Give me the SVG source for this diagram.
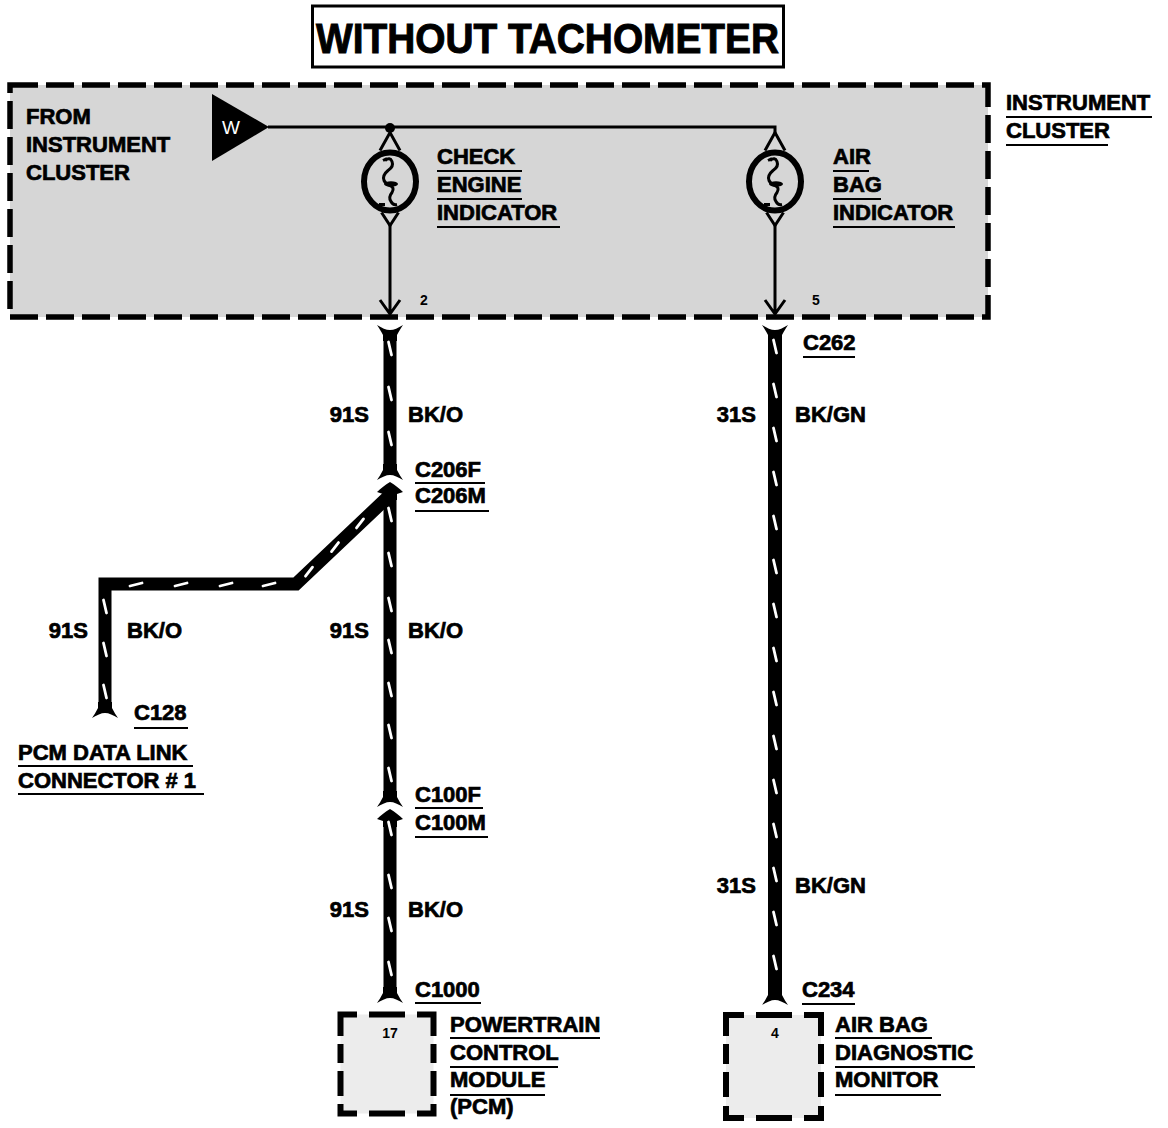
<svg xmlns="http://www.w3.org/2000/svg" width="1168" height="1128" viewBox="0 0 1168 1128">
<defs>
<style>
.t{font-family:"Liberation Sans",Arial,sans-serif;font-weight:bold;font-size:22px;fill:#000;stroke:#000;stroke-width:0.7px}
.s{font-family:"Liberation Sans",Arial,sans-serif;font-weight:bold;font-size:14px;fill:#000}
.ul{stroke:#000;stroke-width:2;fill:none}
.wire{stroke:#000;stroke-width:13;fill:none;stroke-linejoin:miter}
.tick{stroke:#fff;stroke-width:2.8;stroke-linecap:round;fill:none}
.thin{stroke:#000;stroke-width:3;fill:none}
.dash{stroke:#000;stroke-width:5.5;fill:none;stroke-dasharray:28 8}
.mod{stroke:#000;stroke-width:6;fill:none}
</style>
<path id="cupDown" d="M-7,-10 L-7,-4 C-9,0 -11,3 -13,6 C-8,3 -4,1 0,1 C4,1 8,3 13,6 C11,3 9,0 7,-4 L7,-10 Z"/>
<path id="cupUp" d="M-7,10 L-7,4 C-9,0 -11,-3 -13,-6 C-8,-3 -4,-1 0,-1 C4,-1 8,-3 13,-6 C11,-3 9,0 7,4 L7,10 Z"/>
<path id="male" d="M0,0 C5,3 9,6 13,10 L7,12 L7,18 L-7,18 L-7,12 L-13,10 C-9,6 -5,3 0,0 Z"/>
<g id="bulb">
<ellipse rx="26" ry="29" fill="none" stroke="#000" stroke-width="6"/>
<path d="M-10,-31 L0,-49 L10,-31" class="thin"/>
<path d="M-8.5,31 L0,44 L8.5,31" class="thin"/>
<path d="M-5,-21 Q0,-25 2,-20 Q4,-15 -2,-11 Q-8,-6 -6,-1 Q-4,3 0,4 Q5,6 2,11 Q-2,16 1,20 Q3,24 7,23" class="thin"/>
<ellipse cx="1" cy="2.5" rx="7" ry="2.8" fill="#000"/>
<path d="M-11,23 L-5,23 M-7,-21 L-3,-23" class="thin"/>
</g>
</defs>

<g id="title">
<rect x="312.5" y="6" width="471" height="61" fill="#fff" stroke="#000" stroke-width="3"/>
<text x="316" y="53" class="t" style="font-size:43px;stroke-width:1px" textLength="463" lengthAdjust="spacingAndGlyphs">WITHOUT TACHOMETER</text>
</g>

<g id="instrument-cluster">
<rect x="10" y="85" width="978" height="232" fill="#d6d6d6"/>
<rect x="10" y="85" width="978" height="232" class="dash"/>
<text x="26" y="124" class="t">FROM</text>
<text x="26" y="152" class="t">INSTRUMENT</text>
<text x="26" y="180" class="t">CLUSTER</text>
<text x="1006" y="110" class="t">INSTRUMENT</text>
<path d="M1006,117 H1152" class="ul"/>
<text x="1006" y="138" class="t">CLUSTER</text>
<path d="M1006,145 H1108" class="ul"/>
<polygon points="212,94 212,161 269,127" fill="#000"/>
<text x="222" y="134" fill="#fff" style="font-family:'Liberation Sans',Arial,sans-serif;font-size:19px">W</text>
</g>

<g id="check-engine-indicator">
<use href="#bulb" x="390" y="181.5"/>
<text x="437" y="164" class="t">CHECK</text>
<path d="M437,171 H522" class="ul"/>
<text x="437" y="192" class="t">ENGINE</text>
<path d="M437,199 H522" class="ul"/>
<text x="437" y="220" class="t">INDICATOR</text>
<path d="M437,227 H560" class="ul"/>
<text x="420" y="305" class="s">2</text>
</g>

<g id="air-bag-indicator">
<use href="#bulb" x="775" y="181.5"/>
<text x="833" y="164" class="t">AIR</text>
<path d="M833,171 H869" class="ul"/>
<text x="833" y="192" class="t">BAG</text>
<path d="M833,199 H881" class="ul"/>
<text x="833" y="220" class="t">INDICATOR</text>
<path d="M833,227 H955" class="ul"/>
<text x="812" y="305" class="s">5</text>
</g>

<g id="pcm">
<rect x="340.5" y="1014.5" width="93" height="99" fill="#ececec"/>
<path class="mod" d="M340.5,1036 V1014.5 H357 M369,1014.5 H405 M417,1014.5 H433.5 V1036 M340.5,1044 V1063 M340.5,1071 V1096 M433.5,1044 V1063 M433.5,1071 V1096 M340.5,1104 V1113.5 H357 M369,1113.5 H405 M417,1113.5 H433.5 V1104"/>
<text x="390" y="1038" class="s" text-anchor="middle">17</text>
<text x="450" y="1032" class="t">POWERTRAIN</text>
<path d="M450,1038 H600" class="ul"/>
<text x="450" y="1060" class="t">CONTROL</text>
<path d="M450,1067 H558" class="ul"/>
<text x="450" y="1087" class="t">MODULE</text>
<path d="M450,1095 H545" class="ul"/>
<text x="450" y="1114" class="t">(PCM)</text>
</g>

<g id="air-bag-diagnostic-monitor">
<rect x="726" y="1015" width="95" height="103" fill="#ececec"/>
<path class="mod" d="M726,1036 V1015 H744 M756,1015 H792 M804,1015 H821 V1036 M726,1044 V1064 M726,1072 V1097 M821,1044 V1064 M821,1072 V1097 M726,1106 V1118 H744 M756,1118 H792 M804,1118 H821 V1106"/>
<text x="775" y="1038" class="s" text-anchor="middle">4</text>
<text x="835" y="1032" class="t">AIR BAG</text>
<path d="M835,1038 H932" class="ul"/>
<text x="835" y="1060" class="t">DIAGNOSTIC</text>
<path d="M835,1067 H975" class="ul"/>
<text x="835" y="1087" class="t">MONITOR</text>
<path d="M835,1095 H941" class="ul"/>
</g>

<g id="pcm-data-link-connector">
<text x="134" y="720" class="t">C128</text>
<path d="M134,728 H188" class="ul"/>
<text x="18" y="760" class="t">PCM DATA LINK</text>
<path d="M18,766 H193" class="ul"/>
<text x="18" y="788" class="t">CONNECTOR # 1</text>
<path d="M18,794 H204" class="ul"/>
</g>

<g id="connectors">
<path class="thin" d="M268,127 H775 V133"/>
<circle cx="390" cy="128" r="5" fill="#000"/>
<path class="thin" d="M390,225 V314 M380,300 L390,314 L400,300"/>
<path class="thin" d="M775,225 V314 M765,300 L775,314 L785,300"/>

<path class="wire" d="M390,331 V470"/>
<use href="#cupUp" x="390" y="331"/>
<use href="#cupDown" x="390" y="474"/>
<path class="wire" d="M390,495 V797"/>
<path class="wire" d="M390,495 L296,584 H105 V706"/>
<use href="#male" x="390" y="482"/>
<use href="#cupDown" x="105" y="712"/>
<use href="#cupDown" x="390" y="801"/>
<path class="wire" d="M390,820 V993"/>
<use href="#male" x="390" y="809"/>
<use href="#cupDown" x="390" y="997"/>

<path class="wire" d="M775,331 V995" style="stroke-width:14"/>
<use href="#cupUp" x="775" y="331"/>
<use href="#cupDown" x="775" y="999"/>

<path class="tick" d="M388.5,342 l3,13 M388.5,387 l3,13 M388.5,432 l3,13"/>
<path class="tick" d="M388.5,508 l3,13 M388.5,553 l3,13 M388.5,598 l3,13 M388.5,640 l3,13 M388.5,683 l3,13 M388.5,725 l3,13 M388.5,768 l3,13"/>
<path class="tick" d="M388.5,822 l3,13 M388.5,875 l3,13 M388.5,918 l3,13 M388.5,962 l3,13"/>
<path class="tick" d="M103.5,600 l3,13 M103.5,643 l3,13 M103.5,685 l3,13"/>
<path class="tick" d="M130,586 l12,-3 M175,586 l12,-3 M220,586 l12,-3 M263,586 l12,-3"/>
<path class="tick" d="M305.5,576.2 l7,-9 M331.5,551.6 l7,-9 M356.5,527.9 l7,-9"/>
<path class="tick" d="M773.5,340 l3,13 M773.5,384 l3,13 M773.5,428 l3,13 M773.5,472 l3,13 M773.5,516 l3,13 M773.5,560 l3,13 M773.5,604 l3,13 M773.5,648 l3,13 M773.5,692 l3,13 M773.5,736 l3,13 M773.5,780 l3,13 M773.5,824 l3,13 M773.5,868 l3,13 M773.5,912 l3,13 M773.5,956 l3,13"/>

<text x="369" y="422" class="t" text-anchor="end">91S</text>
<text x="408" y="422" class="t">BK/O</text>
<text x="756" y="422" class="t" text-anchor="end">31S</text>
<text x="795" y="422" class="t">BK/GN</text>
<text x="803" y="350" class="t">C262</text>
<path d="M803,357 H855" class="ul"/>
<text x="415" y="477" class="t">C206F</text>
<path d="M415,483 H485" class="ul"/>
<text x="415" y="503" class="t">C206M</text>
<path d="M415,511 H489" class="ul"/>
<text x="369" y="638" class="t" text-anchor="end">91S</text>
<text x="408" y="638" class="t">BK/O</text>
<text x="88" y="638" class="t" text-anchor="end">91S</text>
<text x="127" y="638" class="t">BK/O</text>
<text x="415" y="802" class="t">C100F</text>
<path d="M415,808 H483" class="ul"/>
<text x="415" y="830" class="t">C100M</text>
<path d="M415,837 H488" class="ul"/>
<text x="369" y="917" class="t" text-anchor="end">91S</text>
<text x="408" y="917" class="t">BK/O</text>
<text x="756" y="893" class="t" text-anchor="end">31S</text>
<text x="795" y="893" class="t">BK/GN</text>
<text x="415" y="997" class="t">C1000</text>
<path d="M415,1003 H481" class="ul"/>
<text x="802" y="997" class="t">C234</text>
<path d="M802,1004 H855" class="ul"/>
</g>
</svg>
